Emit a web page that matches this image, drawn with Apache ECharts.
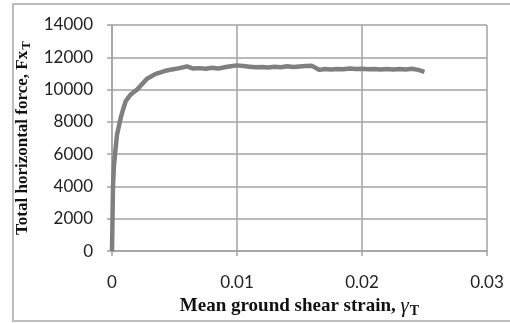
<!DOCTYPE html>
<html>
<head>
<meta charset="utf-8">
<script src="https://cdn.jsdelivr.net/npm/echarts@6/dist/echarts.min.js"></script>
<style>
  html, body { margin: 0; padding: 0; background: #fff; }
  #chart { width: 510px; height: 323px; }
</style>
</head>
<body>
<div id="chart"></div>
<script>
// strain (gamma_T) vs total horizontal force (Fx_T)
const strain = [0, 0.00003, 0.00008, 0.00015, 0.00024, 0.0004, 0.0007, 0.0009, 0.0011, 0.0015,
  0.002, 0.0028, 0.0035, 0.0042, 0.0048, 0.0054, 0.006, 0.0065, 0.007, 0.0075, 0.008,
  0.0085, 0.009, 0.0095, 0.01, 0.0105, 0.011, 0.0115, 0.012, 0.0125, 0.013, 0.0135,
  0.014, 0.0145, 0.015, 0.0155, 0.016, 0.0166, 0.017, 0.0175, 0.018, 0.0185, 0.019,
  0.0195, 0.02, 0.0205, 0.021, 0.0215, 0.022, 0.0225, 0.023, 0.0235, 0.024, 0.0245, 0.025];
const force = [0, 1500, 4000, 5200, 6000, 7200, 8260, 8800, 9290, 9700,
  10000, 10670, 10975, 11150, 11250, 11330, 11440, 11300, 11330, 11290, 11350,
  11300, 11380, 11450, 11500, 11460, 11420, 11380, 11400, 11370, 11420, 11390,
  11440, 11400, 11430, 11460, 11470, 11220, 11270, 11240, 11280, 11260, 11300,
  11270, 11290, 11260, 11280, 11240, 11270, 11250, 11280, 11250, 11290, 11220, 11100];
const xTicks = [0, 0.01, 0.02, 0.03];
const yTicks = [0, 2000, 4000, 6000, 8000, 10000, 12000, 14000];

const points = strain.map((s, i) => [s, force[i]]);

const chart = echarts.init(document.getElementById('chart'));
const gridColor = '#a3a3a3';
chart.setOption({
  animation: false,
  backgroundColor: '#fff',
  grid: { left: 112, right: 23, top: 25, bottom: 66 },
  graphic: [{
    type: 'rect',
    shape: { x: 13, y: 4, width: 500, height: 317 },
    style: { fill: 'none', stroke: '#bdbdbd', lineWidth: 2 },
    silent: true
  }],
  xAxis: {
    type: 'value',
    min: xTicks[0],
    max: xTicks[xTicks.length - 1],
    interval: 0.01,
    name: '{b|Mean ground shear strain, }{g|γ}{s|T}',
    nameLocation: 'middle',
    nameGap: 38,
    nameTextStyle: {
      rich: {
        b: { fontFamily: 'Liberation Serif', fontWeight: 'bold', fontSize: 19, color: '#111' },
        g: { fontFamily: 'Liberation Serif', fontStyle: 'italic', fontSize: 21, color: '#111' },
        s: { fontFamily: 'Liberation Serif', fontWeight: 'bold', fontSize: 14, color: '#111', verticalAlign: 'bottom', padding: [9, 0, 0, 1] }
      }
    },
    axisLine: { lineStyle: { color: gridColor, width: 1.5 } },
    axisTick: { show: true, length: 5, lineStyle: { color: gridColor, width: 1.5 } },
    axisLabel: { margin: 23, fontFamily: 'Lato', fontSize: 17, color: '#222',
      formatter: v => String(Math.round(v * 100) / 100) },
    splitLine: { show: true, lineStyle: { color: gridColor, width: 1.5 } }
  },
  yAxis: {
    type: 'value',
    min: yTicks[0],
    max: yTicks[yTicks.length - 1],
    interval: 2000,
    name: '{b|Total horizontal force, Fx}{s|T}',
    nameLocation: 'middle',
    nameRotate: 90,
    nameGap: 75,
    nameTextStyle: {
      rich: {
        b: { fontFamily: 'Liberation Serif', fontWeight: 'bold', fontSize: 17, color: '#111' },
        s: { fontFamily: 'Liberation Serif', fontWeight: 'bold', fontSize: 13, color: '#111', verticalAlign: 'bottom', padding: [8, 0, 0, 1] }
      }
    },
    axisLine: { show: true, lineStyle: { color: gridColor, width: 1.5 } },
    axisTick: { show: true, length: 5, lineStyle: { color: gridColor, width: 1.5 } },
    axisLabel: { margin: 19, fontFamily: 'Lato', fontSize: 17, color: '#222',
      formatter: v => String(v) },
    splitLine: { show: true, lineStyle: { color: gridColor, width: 1.5 } }
  },
  series: [{
    type: 'line',
    data: points,
    showSymbol: false,
    lineStyle: { color: '#7f7f7f', width: 4.5 },
    smooth: false
  }]
});
</script>
</body>
</html>
